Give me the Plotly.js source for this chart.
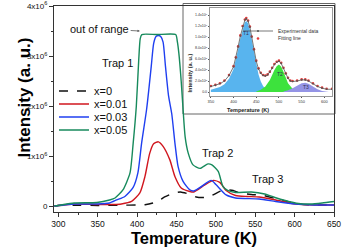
<!DOCTYPE html>
<html>
<head>
<meta charset="utf-8">
<script src="https://cdn.plot.ly/plotly-3.0.1.min.js"></script>
<style>html,body{margin:0;padding:0;background:#fff;}#chart{width:342px;height:249px;}</style>
</head>
<body>
<div id="chart"></div>
<script>
// ---- main chart data (Temperature K, Intensity a.u.) ----
const tempX0 = [295,300,320,350,380,400,410,420,429,435,445,455,465,475,485,495,505,515,522,530,545,560,575,588,605,620,650];
const intX0  = [0.01e6,0.02e6,0.025e6,0.02e6,0.025e6,0.03e6,0.035e6,0.07e6,0.13e6,0.19e6,0.26e6,0.29e6,0.25e6,0.19e6,0.18e6,0.22e6,0.3e6,0.33e6,0.32e6,0.27e6,0.24e6,0.22e6,0.16e6,0.11e6,0.05e6,0.03e6,0.03e6];

const tempX001 = [295,300,320,350,370,380,393,403.5,410,416,421,427,433,441.6,448,456,467,472,486,497,505,513,525,540,555,576,601,625,650];
const intX001  = [0.01e6,0.02e6,0.05e6,0.04e6,0.04e6,0.05e6,0.1e6,0.27e6,0.6e6,1.06e6,1.25e6,1.29e6,1.2e6,0.93e6,0.6e6,0.37e6,0.3e6,0.29e6,0.43e6,0.52e6,0.48e6,0.32e6,0.22e6,0.2e6,0.19e6,0.13e6,0.05e6,0.03e6,0.03e6];

const tempX003 = [295,300,320,350,365,374,384.5,395,401,405.7,412,415,418,421,424,427,430,433,436,440,444,448,452,458.4,467,472,480,494,500,513,525,555,576,601,625,650];
const intX003  = [0.01e6,0.02e6,0.05e6,0.05e6,0.07e6,0.13e6,0.2e6,0.38e6,0.67e6,1.26e6,1.93e6,2.35e6,2.8e6,3.25e6,3.39e6,3.41e6,3.39e6,3.28e6,2.8e6,2.2e6,1.85e6,1.27e6,0.8e6,0.5e6,0.33e6,0.31e6,0.38e6,0.52e6,0.44e6,0.23e6,0.17e6,0.15e6,0.1e6,0.05e6,0.03e6,0.03e6];

const tempX005 = [295,300,320,349,365,372,382,391,395,399,402,404,406,425,449,451,453,456,458.4,461,465,471,480,490,495,503,509,515,525,545,562,575,588,605,620,635,650];
const intX005  = [0.01e6,0.02e6,0.07e6,0.08e6,0.13e6,0.17e6,0.33e6,0.67e6,1.26e6,2.0e6,2.9e6,3.35e6,3.43e6,3.43e6,3.43e6,3.3e6,3.06e6,2.5e6,1.93e6,1.39e6,1.06e6,0.83e6,0.76e6,0.85e6,0.83e6,0.7e6,0.4e6,0.32e6,0.28e6,0.29e6,0.25e6,0.18e6,0.12e6,0.06e6,0.05e6,0.07e6,0.1e6];

const seriesNames = ['x=0','x=0.01','x=0.03','x=0.05'];
const yTickVals = [0,1e6,2e6,3e6,4e6];
const yTickText = ['0','1x10<sup>6</sup>','2x10<sup>6</sup>','3x10<sup>6</sup>','4x10<sup>6</sup>'];
const xTickVals = [300,350,400,450,500,550,600,650];

// ---- inset data (x=0.01 deconvolution) ----
const insTemp = [350,360,370,380,390,400,405,410,415,420,425,428,432,436,440,445,450,455,460,465,470,475,480,485,490,495,500,505,510,515,520,525,530,540,550,558,565,575,585,595,605,617];
const insExp  = [0.1e6,0.12e6,0.15e6,0.2e6,0.3e6,0.46e6,0.62e6,0.82e6,1.02e6,1.19e6,1.31e6,1.33e6,1.29e6,1.18e6,1.0e6,0.77e6,0.56e6,0.42e6,0.34e6,0.3e6,0.29e6,0.31e6,0.36e6,0.43e6,0.5e6,0.54e6,0.56e6,0.52e6,0.43e6,0.33e6,0.25e6,0.2e6,0.19e6,0.2e6,0.22e6,0.22e6,0.2e6,0.15e6,0.1e6,0.07e6,0.05e6,0.05e6];
const insFit  = [0.11e6,0.13e6,0.16e6,0.21e6,0.31e6,0.47e6,0.63e6,0.83e6,1.03e6,1.2e6,1.32e6,1.345e6,1.3e6,1.19e6,1.01e6,0.78e6,0.57e6,0.43e6,0.35e6,0.31e6,0.3e6,0.32e6,0.37e6,0.44e6,0.51e6,0.55e6,0.57e6,0.53e6,0.44e6,0.34e6,0.26e6,0.21e6,0.2e6,0.21e6,0.23e6,0.23e6,0.21e6,0.16e6,0.11e6,0.08e6,0.06e6,0.06e6];
const t1Temp = [350,360,370,380,390,400,405,410,415,420,425,428,432,436,440,445,450,455,460,465,470,480,490,500];
const t1Int  = [0.04e6,0.06e6,0.09e6,0.14e6,0.24e6,0.42e6,0.58e6,0.78e6,0.98e6,1.15e6,1.27e6,1.29e6,1.25e6,1.13e6,0.95e6,0.72e6,0.5e6,0.32e6,0.19e6,0.11e6,0.06e6,0.02e6,0.01e6,0];
const t2Temp = [450,460,470,480,490,495,500,505,510,515,520,530,540,550];
const t2Int  = [0.01e6,0.04e6,0.1e6,0.22e6,0.4e6,0.47e6,0.5e6,0.46e6,0.37e6,0.26e6,0.16e6,0.06e6,0.02e6,0];
const t3Temp = [510,520,530,540,550,558,565,575,585,595,610];
const t3Int  = [0.01e6,0.03e6,0.07e6,0.12e6,0.16e6,0.17e6,0.15e6,0.1e6,0.05e6,0.02e6,0];
const insYTickVals = [0,2e5,4e5,6e5,8e5,1e6,1.2e6,1.4e6];
const insYTickText = ['0.0','2.0x10<sup>5</sup>','4.0x10<sup>5</sup>','6.0x10<sup>5</sup>','8.0x10<sup>5</sup>','1.0x10<sup>6</sup>','1.2x10<sup>6</sup>','1.4x10<sup>6</sup>'];
const insXTickVals = [350,400,450,500,550,600];

const FONT = 'Liberation Sans, Arial, sans-serif';
const colors = ['#111111','#d0161e','#1f3ff0','#178a5c'];
const dashes = ['dash','solid','solid','solid'];
const mainX = [tempX0,tempX001,tempX003,tempX005];
const mainY = [intX0,intX001,intX003,intX005];
const legendIds = ['legend','legend2','legend3','legend4'];

const traces = [];
// inset fills first
traces.push({x:t1Temp,y:t1Int,xaxis:'x2',yaxis:'y2',type:'scatter',mode:'lines',fill:'tozeroy',fillcolor:'#58b4ee',line:{width:0,color:'#58b4ee'},showlegend:false,hoverinfo:'skip'});
traces.push({x:t2Temp,y:t2Int,xaxis:'x2',yaxis:'y2',type:'scatter',mode:'lines',fill:'tozeroy',fillcolor:'#3de23d',line:{width:0,color:'#3de23d'},showlegend:false,hoverinfo:'skip'});
traces.push({x:t3Temp,y:t3Int,xaxis:'x2',yaxis:'y2',type:'scatter',mode:'lines',fill:'tozeroy',fillcolor:'#9494e6',line:{width:0,color:'#9494e6'},showlegend:false,hoverinfo:'skip'});
traces.push({x:insTemp,y:insFit,xaxis:'x2',yaxis:'y2',type:'scatter',mode:'markers',name:'Fitting line',legend:'legend6',
  marker:{size:2.6,color:'#e23a3a'}});
traces.push({x:insTemp,y:insExp,xaxis:'x2',yaxis:'y2',type:'scatter',mode:'lines+markers',name:'Experimental data',legend:'legend5',
  line:{width:0.8,color:'#555'},marker:{size:1.6,color:'#555'}});

for (let i=0;i<4;i++){
  traces.push({x:mainX[i],y:mainY[i],type:'scatter',mode:'lines',name:seriesNames[i],legend:legendIds[i],
    line:{color:colors[i],width:1.4,dash:dashes[i],shape:'spline',smoothing:0.6}});
}

function pxToPaperY(py){return (212-py)/206;}
const legBase = {xanchor:'left',yanchor:'middle',bgcolor:'rgba(0,0,0,0)',borderwidth:0,font:{family:FONT,size:11,color:'#111'}};
const legX = 0.0;

const layout = {
  width:342,height:249,
  margin:{l:54,r:8,t:6,b:37},
  paper_bgcolor:'#fff',plot_bgcolor:'#fff',
  font:{family:FONT,color:'#111'},
  xaxis:{range:[294.5,650],tickvals:xTickVals,ticks:'outside',ticklen:4,tickwidth:1,tickcolor:'#333',
    minor:{dtick:25,ticks:'outside',ticklen:2,tickcolor:'#333'},
    showline:true,mirror:true,linecolor:'#333',linewidth:1,showgrid:false,zeroline:false,
    tickfont:{family:FONT,size:8.5,color:'#111'},
    title:{text:'<b>Temperature (K)</b>',font:{family:FONT,size:16.5,color:'#000'},standoff:2}},
  yaxis:{range:[-0.11e6,4e6],tickvals:yTickVals,ticktext:yTickText,ticks:'outside',ticklen:4,tickwidth:1,tickcolor:'#333',
    minor:{dtick:5e5,ticks:'outside',ticklen:2,tickcolor:'#333'},
    showline:true,mirror:true,linecolor:'#333',linewidth:1,showgrid:false,zeroline:false,
    tickfont:{family:FONT,size:8,color:'#111'},
    title:{text:''}},
  xaxis2:{domain:[0.557,0.993],anchor:'y2',range:[348,617],tickvals:insXTickVals,ticks:'outside',ticklen:1.5,tickcolor:'#555',
    showline:true,mirror:true,linecolor:'#555',linewidth:0.6,showgrid:false,zeroline:false,
    tickfont:{family:FONT,size:4,color:'#333'}},
  yaxis2:{domain:[0.563,0.99],anchor:'x2',range:[-0.073e6,1.527e6],tickvals:insYTickVals,ticktext:insYTickText,ticks:'outside',ticklen:1.5,tickcolor:'#555',
    showline:true,mirror:true,linecolor:'#555',linewidth:0.6,showgrid:false,zeroline:false,
    tickfont:{family:FONT,size:3.6,color:'#333'}},
  shapes:[{type:'rect',xref:'paper',yref:'paper',x0:(183-54)/280,x1:(335-54)/280,y0:pxToPaperY(114),y1:pxToPaperY(3.5),
    line:{color:'#666',width:1},fillcolor:'#fff',layer:'below'}],
  legend:Object.assign({},legBase,{x:legX,y:pxToPaperY(91)}),
  legend2:Object.assign({},legBase,{x:legX,y:pxToPaperY(104)}),
  legend3:Object.assign({},legBase,{x:legX,y:pxToPaperY(117)}),
  legend4:Object.assign({},legBase,{x:legX,y:pxToPaperY(130)}),
  legend5:Object.assign({},legBase,{x:(278-40-54)/280,y:pxToPaperY(31),font:{family:FONT,size:5,color:'#333'}}),
  legend6:Object.assign({},legBase,{x:(278-40-54)/280,y:pxToPaperY(38.5),font:{family:FONT,size:5,color:'#333'}}),
  annotations:[
    {x:(12-54)/280,y:pxToPaperY(98),xref:'paper',yref:'paper',text:'<b>Intensity (a. u.)</b>',textangle:-90,showarrow:false,
      font:{family:FONT,size:17,color:'#000'}},
    {x:403.5,y:3.5e6,ax:352.5,ay:3.55e6,axref:'x',ayref:'y',xref:'x',yref:'y',text:'out of range',showarrow:true,
      arrowhead:2,arrowsize:0.6,arrowwidth:0.8,arrowcolor:'#555',font:{family:FONT,size:11,color:'#111'}},
    {x:375,y:2.86e6,xref:'x',yref:'y',text:'Trap 1',showarrow:false,font:{family:FONT,size:11,color:'#111'}},
    {x:502,y:1.06e6,xref:'x',yref:'y',text:'Trap 2',showarrow:false,font:{family:FONT,size:11,color:'#111'}},
    {x:566,y:0.55e6,xref:'x',yref:'y',text:'Trap 3',showarrow:false,font:{family:FONT,size:11,color:'#111'}},
    {x:426.8,y:1.07e6,xref:'x2',yref:'y2',text:'T1',showarrow:false,font:{family:FONT,size:5,color:'#335'}},
    {x:502.7,y:0.33e6,xref:'x2',yref:'y2',text:'T2',showarrow:false,font:{family:FONT,size:5,color:'#335'}},
    {x:560,y:0.085e6,xref:'x2',yref:'y2',text:'T3',showarrow:false,font:{family:FONT,size:5,color:'#335'}},
    {x:(189-54)/280,y:pxToPaperY(52),xref:'paper',yref:'paper',text:'<b>Intensity (a. u.)</b>',textangle:-90,showarrow:false,
      font:{family:FONT,size:5.5,color:'#222'}},
    {x:(271-54)/280,y:pxToPaperY(109.5),xref:'paper',yref:'paper',text:'<b>Temperature (K)</b>',showarrow:false,
      font:{family:FONT,size:5.5,color:'#222'}}
  ]
};

Plotly.newPlot('chart',traces,layout,{staticPlot:true,displayModeBar:false});
</script>
</body>
</html>
